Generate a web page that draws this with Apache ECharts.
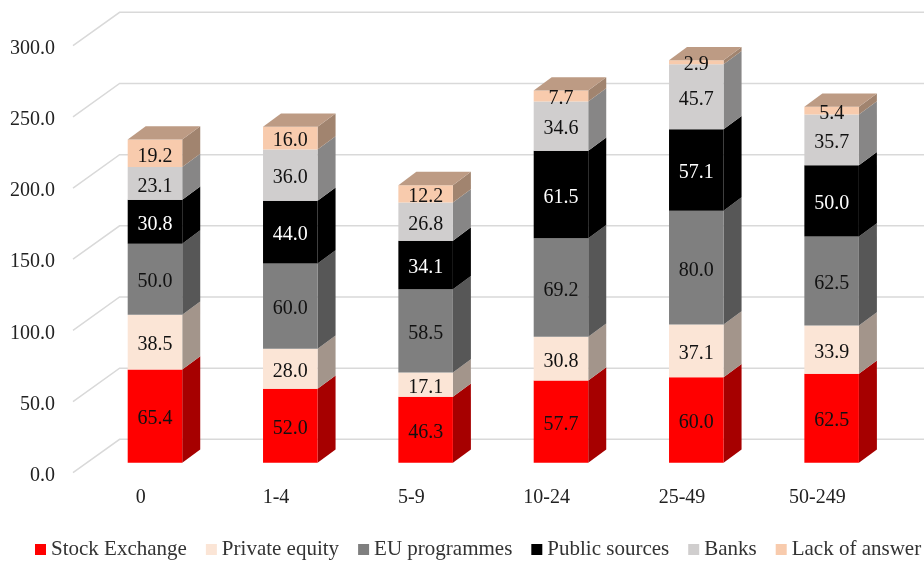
<!DOCTYPE html>
<html>
<head>
<meta charset="utf-8">
<style>html,body{margin:0;padding:0;background:#fff}#chart{width:924px;height:561px}</style>
<script src="https://cdn.jsdelivr.net/npm/echarts@6/dist/echarts.min.js"></script>
</head>
<body>
<div id="chart"></div>
<script>
// Funding sources by company size, stacked columns with a pseudo-3D look
const categories = ['0', '1-4', '5-9', '10-24', '25-49', '50-249'];
const stockExchange = [65.4, 52.0, 46.3, 57.7, 60.0, 62.5];
const privateEquity = [38.5, 28.0, 17.1, 30.8, 37.1, 33.9];
const euProgrammes = [50.0, 60.0, 58.5, 69.2, 80.0, 62.5];
const publicSources = [30.8, 44.0, 34.1, 61.5, 57.1, 50.0];
const banks = [23.1, 36.0, 26.8, 34.6, 45.7, 35.7];
const lackOfAnswer = [19.2, 16.0, 12.2, 7.7, 2.9, 5.4];
const axisTicks = [0, 50, 100, 150, 200, 250, 300];

const stacks = [
  { name: 'Stock Exchange', values: stockExchange, front: '#FF0000', side: '#A60000', label: '#111' },
  { name: 'Private equity', values: privateEquity, front: '#FBE5D6', side: '#A3958B', label: '#111' },
  { name: 'EU programmes', values: euProgrammes, front: '#7F7F7F', side: '#575757', label: '#111' },
  { name: 'Public sources', values: publicSources, front: '#000000', side: '#000000', label: '#fff' },
  { name: 'Banks', values: banks, front: '#D0CECE', side: '#878686', label: '#111' },
  { name: 'Lack of answer', values: lackOfAnswer, front: '#F8CBAD', side: '#A1846F', top: '#BD9B84', label: '#111' }
];

const FONT = '"Liberation Serif", "Times New Roman", serif';
const WALL_DX = 46.6, WALL_DY = 33.4;   // depth of the floor
const BAR_INSET_DX = 14.3, BAR_INSET_DY = 10; // bars stand inside the floor
const BAR_DX = 18, BAR_DY = 13.3;       // depth of a column
const BAR_RATIO = 0.403;

function renderWall(params, api) {
  const cs = params.coordSys;
  const y = api.coord([0, api.value(1)])[1];
  return {
    type: 'polyline',
    silent: true,
    shape: { points: [[cs.x, y], [cs.x + WALL_DX, y - WALL_DY], [cs.x + cs.width + WALL_DX, y - WALL_DY]] },
    style: { fill: null, stroke: '#D9D9D9', lineWidth: 1.5 }
  };
}

function barRenderer(stack, isTop) {
  return function (params, api) {
    const idx = api.value(0);
    const low = api.coord([idx, api.value(1)]);
    const high = api.coord([idx, api.value(2)]);
    const w = api.size([1, 0])[0] * BAR_RATIO;
    const x0 = low[0] + BAR_INSET_DX - w / 2, x1 = x0 + w;
    const y0 = low[1] - BAR_INSET_DY, y1 = high[1] - BAR_INSET_DY;
    const children = [
      { type: 'polygon', shape: { points: [[x1, y0], [x1 + BAR_DX, y0 - BAR_DY], [x1 + BAR_DX, y1 - BAR_DY], [x1, y1]] },
        style: { fill: stack.side } },
      { type: 'rect', shape: { x: x0, y: y1, width: w, height: y0 - y1 }, style: { fill: stack.front } }
    ];
    if (isTop) {
      children.push({ type: 'polygon', shape: { points: [[x0, y1], [x0 + BAR_DX, y1 - BAR_DY], [x1 + BAR_DX, y1 - BAR_DY], [x1, y1]] },
        style: { fill: stack.top } });
    }
    children.push({
      type: 'text',
      z2: 10,
      style: {
        x: (x0 + x1) / 2, y: (y0 + y1) / 2 + 3,
        text: (api.value(2) - api.value(1)).toFixed(1),
        fill: stack.label, font: '20px ' + FONT, align: 'center', verticalAlign: 'middle'
      }
    });
    return { type: 'group', children };
  };
}

const running = categories.map(() => 0);
const barSeries = stacks.map((stack, s) => ({
  type: 'custom',
  name: stack.name,
  coordinateSystem: 'cartesian2d',
  clip: false,
  itemStyle: { color: stack.front },
  encode: { x: 0, y: [1, 2] },
  renderItem: barRenderer(stack, s === stacks.length - 1),
  data: stack.values.map((v, i) => {
    const base = running[i];
    running[i] = base + v;
    return [i, base, running[i]];
  }),
  z: 3 + s
}));

const chart = echarts.init(document.getElementById('chart'), null, { renderer: 'canvas' });
chart.setOption({
  animation: false,
  backgroundColor: '#fff',
  grid: { left: 73, top: 45.7, width: 812, height: 427 },
  legend: {
    data: stacks.map(s => s.name),
    left: 35, top: 539, width: 950,
    padding: 0,
    itemWidth: 11, itemHeight: 11, itemGap: 19,
    icon: 'rect',
    textStyle: { fontFamily: FONT, fontSize: 21, color: '#333' }
  },
  xAxis: {
    type: 'category',
    data: categories,
    axisLine: { show: false },
    axisTick: { show: false },
    axisLabel: { fontFamily: FONT, fontSize: 20, color: '#222', margin: 15 }
  },
  yAxis: {
    type: 'value',
    min: axisTicks[0],
    max: axisTicks[axisTicks.length - 1],
    interval: 50,
    axisLine: { show: false },
    axisTick: { show: false },
    splitLine: { show: false },
    axisLabel: { fontFamily: FONT, fontSize: 20, color: '#222', margin: 18, verticalAlign: 'top', lineHeight: 6, formatter: v => v.toFixed(1) }
  },
  series: [{
    type: 'custom',
    name: 'wall',
    coordinateSystem: 'cartesian2d',
    clip: false,
    silent: true,
    encode: { x: 0, y: 1 },
    renderItem: renderWall,
    data: axisTicks.map(t => [0, t]),
    z: 1
  }].concat(barSeries)
});
</script>
</body>
</html>
